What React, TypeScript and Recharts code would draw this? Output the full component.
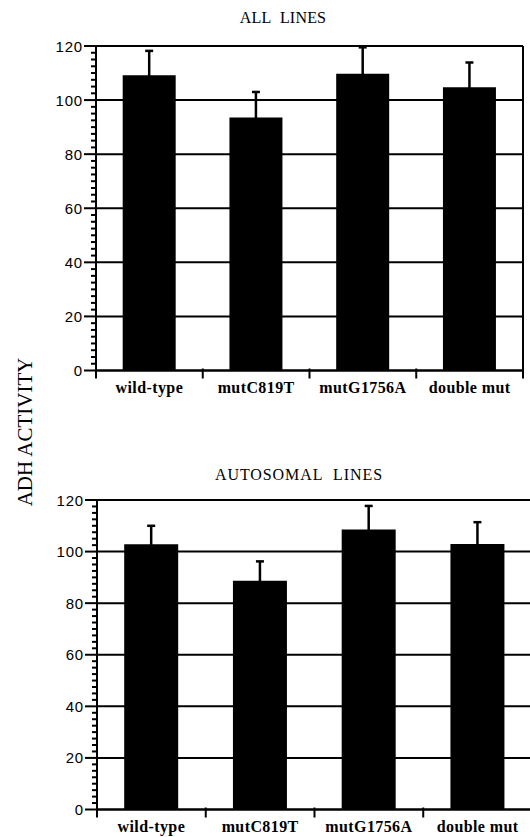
import { BarChart, Bar, XAxis, YAxis, CartesianGrid, ErrorBar } from 'recharts';

const CATEGORIES = ['wild-type', 'mutC819T', 'mutG1756A', 'double mut'];
// ALL LINES
const ALL_MEAN = [109.2, 93.6, 109.7, 104.7];
const ALL_SD = [9.0, 9.4, 9.8, 9.2];
// AUTOSOMAL LINES
const AUTO_MEAN = [102.8, 88.7, 108.6, 102.9];
const AUTO_SD = [7.2, 7.5, 9.1, 8.5];

const Y_MAJOR = [0, 20, 40, 60, 80, 100, 120];
const MINOR_PER_MAJOR = 8; // minor tick every 2.5

const SERIF = '"Liberation Serif", "Times New Roman", serif';
const SANS = '"Liberation Sans", Arial, sans-serif';

function rows(mean: number[], sd: number[]) {
  return CATEGORIES.map((name, i) => ({ name, mean: mean[i], sd: sd[i] }));
}

function scaleY(props: any, v: number) {
  const s = props.yAxis && props.yAxis.scale;
  if (typeof s === 'function') return s(v);
  if (s && typeof s.map === 'function') return s.map(v);
  return props.offset.top + props.offset.height * (1 - v / 120);
}

interface PanelProps {
  data: { name: string; mean: number; sd: number }[];
  width: number;
  height: number;
  margin: { top: number; right: number; bottom: number; left: number };
  yWidth: number;
  xHeight: number;
}

function Panel({ data, width, height, margin, yWidth, xHeight }: PanelProps) {
  const axisX = margin.left + yWidth;
  const axisY = height - margin.bottom - xHeight;
  const plotW = width - margin.right - axisX;
  const plotH = axisY - margin.top;
  const halfBand = plotW / (2 * data.length);
  const minorStep = plotH / ((Y_MAJOR.length - 1) * MINOR_PER_MAJOR);

  const YTick = (p: any) => {
    const v = Number(p.payload.value);
    const y = Number(p.y);
    const minors: any[] = [];
    if (v < 120) {
      for (let k = 1; k < MINOR_PER_MAJOR; k++) {
        const my = y - minorStep * k;
        minors.push(
          <path key={'m' + k} d={`M${axisX - 5},${my}H${axisX + 1}`} stroke="#000" strokeWidth={2} fill="none" />
        );
      }
    }
    return (
      <g>
        <path d={`M${axisX - 12},${y}H${axisX}`} stroke="#000" strokeWidth={2} fill="none" />
        {minors}
        <text x={axisX - 13} y={y} textAnchor="end" dominantBaseline="central"
          fontFamily={SANS} fontSize={15} letterSpacing={0.8} fill="#000">
          {v}
        </text>
      </g>
    );
  };

  const XTick = (p: any) => {
    const last = p.index === data.length - 1;
    return (
      <g>
        <line x1={p.x - halfBand} x2={p.x - halfBand} y1={axisY - 2} y2={axisY + 8} stroke="#000" strokeWidth={2} />
        {last && (
          <line x1={p.x + halfBand} x2={p.x + halfBand} y1={axisY - 2} y2={axisY + 8} stroke="#000" strokeWidth={2} />
        )}
        <text x={p.x} y={axisY + 22} textAnchor="middle" fontFamily={SERIF} fontSize={16}
          fontWeight="bold" letterSpacing={0.4} fill="#000">
          {p.payload.value}
        </text>
      </g>
    );
  };

  return (
    <BarChart width={width} height={height} data={data} margin={margin} barCategoryGap="25%">
      <CartesianGrid
        stroke="#000"
        strokeWidth={2}
        horizontalCoordinatesGenerator={(props: any) => Y_MAJOR.map((v) => scaleY(props, v))}
        verticalCoordinatesGenerator={(props: any) => [props.offset.left + props.offset.width]}
      />
      <XAxis
        dataKey="name"
        interval={0}
        tickLine={false}
        tick={<XTick />}
        axisLine={{ stroke: '#000', strokeWidth: 2 }}
        height={xHeight}
      />
      <YAxis
        domain={[0, 120]}
        ticks={Y_MAJOR}
        interval={0}
        width={yWidth}
        tickLine={false}
        tick={(p: any) => <YTick {...p} />}
        axisLine={{ stroke: '#000', strokeWidth: 2 }}
        allowDataOverflow
      />
      <Bar dataKey="mean" fill="#000" isAnimationActive={false}>
        <ErrorBar dataKey="sd" width={4} strokeWidth={2.5} stroke="#000" direction="y" />
      </Bar>
    </BarChart>
  );
}

export default function App() {
  return (
    <div style={{ position: 'absolute', left: 0, top: 0, width: 530, height: 837, overflow: 'hidden', background: '#fff' }}>
      <div style={{ position: 'absolute', left: 0, top: 0 }}>
        <Panel data={rows(ALL_MEAN, ALL_SD)} width={530} height={420}
          margin={{ top: 46, right: 7, bottom: 19.5, left: 0 }} yWidth={96} xHeight={30} />
      </div>
      <div style={{ position: 'absolute', left: 0, top: 430 }}>
        <Panel data={rows(AUTO_MEAN, AUTO_SD)} width={540} height={407}
          margin={{ top: 70, right: 8, bottom: 0, left: 0 }} yWidth={97} xHeight={27.5} />
      </div>
      <svg width={530} height={837} style={{ position: 'absolute', left: 0, top: 0, pointerEvents: 'none' }}>
        <text x={283} y={23} textAnchor="middle" fontFamily={SERIF} fontSize={16} letterSpacing={0.2}>
          {'ALL\u00a0\u00a0LINES'}
        </text>
        <text x={299} y={480} textAnchor="middle" fontFamily={SERIF} fontSize={16} letterSpacing={0.9}>
          {'AUTOSOMAL\u00a0\u00a0LINES'}
        </text>
        <text x={32} y={432} textAnchor="middle" fontFamily={SERIF} fontSize={21}
          transform="rotate(-90 32 432)">
          ADH ACTIVITY
        </text>
      </svg>
    </div>
  );
}
